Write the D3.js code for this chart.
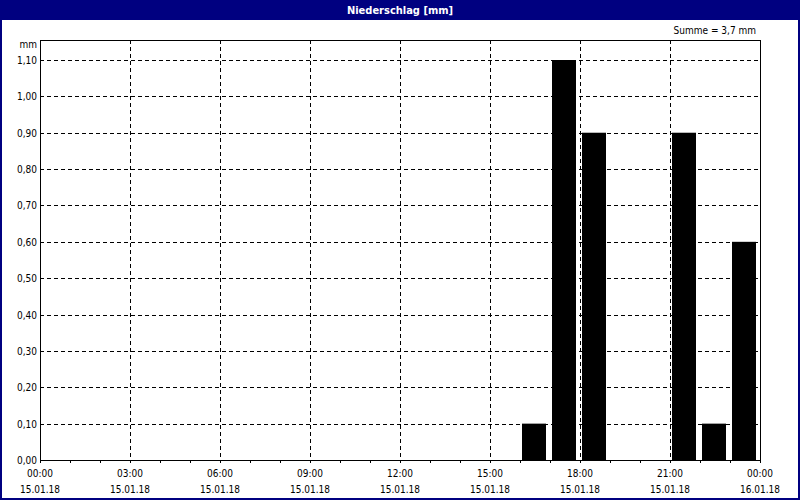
<!DOCTYPE html>
<html>
<head>
<meta charset="utf-8">
<script src="https://cdn.jsdelivr.net/npm/d3@7"></script>
<style>
  body { margin: 0; background: #fff; }
  svg text { font-family: "DejaVu Sans Condensed", "Liberation Sans", sans-serif; font-size: 10px; }
</style>
</head>
<body>
<div id="chart"></div>
<script>
// hourly precipitation, 15.01.18
var hours = [16, 17, 18, 21, 22, 23];
var values = [0.1, 1.1, 0.9, 0.9, 0.1, 0.6];
var yTicks = [0, 0.1, 0.2, 0.3, 0.4, 0.5, 0.6, 0.7, 0.8, 0.9, 1.0, 1.1];
var xLabelHours = [0, 3, 6, 9, 12, 15, 18, 21, 24];
var title = "Niederschlag [mm]";
var sumText = "Summe = 3,7 mm";

var W = 800, H = 500;
var margin = {top: 40, right: 40, bottom: 40, left: 40};
var width = W - margin.left - margin.right,
    height = H - margin.top - margin.bottom;

var svg = d3.select("#chart").append("svg")
  .attr("width", W).attr("height", H);

// window frame + title bar
svg.append("rect").attr("x", 1).attr("y", 1).attr("width", W - 2).attr("height", H - 2)
  .attr("fill", "#fff").attr("stroke", "#000080").attr("stroke-width", 2);
svg.append("rect").attr("x", 0).attr("y", 0).attr("width", W).attr("height", 20)
  .attr("fill", "#000080");
svg.append("text").attr("x", W / 2).attr("y", 14).attr("text-anchor", "middle")
  .attr("fill", "#fff").style("font-weight", "bold").style("font-size", "11px").text(title);

var g = svg.append("g").attr("transform", "translate(" + margin.left + "," + margin.top + ")");

var t0 = new Date(2018, 0, 15, 0, 0);
var t1 = new Date(2018, 0, 16, 0, 0);
var x = d3.scaleTime().domain([t0, t1]).range([0, width]);
var y = d3.scaleLinear().domain([0, 1.155]).range([height, 0]);
var hourDate = function(h) { return new Date(2018, 0, 15, h, 0); };

// grid lines
g.selectAll(".hgrid").data(yTicks.filter(function(d) { return d > 0; })).enter()
  .append("line")
  .attr("x1", 0).attr("x2", width)
  .attr("y1", function(d) { return Math.round(y(d)) + 0.5; })
  .attr("y2", function(d) { return Math.round(y(d)) + 0.5; })
  .attr("stroke", "#000").attr("stroke-dasharray", "4,3");
g.selectAll(".vgrid").data(xLabelHours.slice(1, -1)).enter()
  .append("line")
  .attr("x1", function(d) { return x(hourDate(d)) + 0.5; })
  .attr("x2", function(d) { return x(hourDate(d)) + 0.5; })
  .attr("y1", 0).attr("y2", height)
  .attr("stroke", "#000").attr("stroke-dasharray", "4,3");

// bars
g.selectAll(".bar").data(hours).enter()
  .append("rect")
  .attr("x", function(d) { return x(hourDate(d)) + 2; })
  .attr("width", function(d) { return x(hourDate(d + 1)) - x(hourDate(d)) - 6; })
  .attr("y", function(d, i) { return y(values[i]); })
  .attr("height", function(d, i) { return height - y(values[i]); })
  .attr("fill", "#000");

// plot frame
g.append("rect").attr("x", 0.5).attr("y", 0.5).attr("width", width).attr("height", height)
  .attr("fill", "none").attr("stroke", "#000");

// y axis labels
var fmt = function(d) { return d.toFixed(2).replace(".", ","); };
g.selectAll(".ylab").data(yTicks).enter()
  .append("text")
  .attr("x", -3).attr("y", function(d) { return y(d) + 4; })
  .attr("text-anchor", "end").attr("fill", "#000").text(fmt);
g.append("text").attr("x", -3).attr("y", 8).attr("text-anchor", "end").text("mm");

// x axis ticks (hourly) and labels
var xAxis = d3.axisBottom(x).ticks(d3.timeHour.every(1)).tickSize(3).tickFormat("");
var ax = g.append("g").attr("transform", "translate(0," + height + ")").call(xAxis);
ax.select(".domain").remove();
ax.selectAll("line").attr("stroke", "#000");

var timeFmt = d3.timeFormat("%H:%M"), dateFmt = d3.timeFormat("%d.%m.%y");
var labs = g.selectAll(".xlab").data(xLabelHours).enter().append("g")
  .attr("transform", function(d) { return "translate(" + x(hourDate(d)) + "," + height + ")"; });
labs.append("text").attr("y", 17).attr("text-anchor", "middle")
  .text(function(d) { return timeFmt(hourDate(d)); });
labs.append("text").attr("y", 33).attr("text-anchor", "middle")
  .text(function(d) { return dateFmt(hourDate(d)); });

// sum
svg.append("text").attr("x", 756).attr("y", 34).attr("text-anchor", "end").text(sumText);
</script>
</body>
</html>
